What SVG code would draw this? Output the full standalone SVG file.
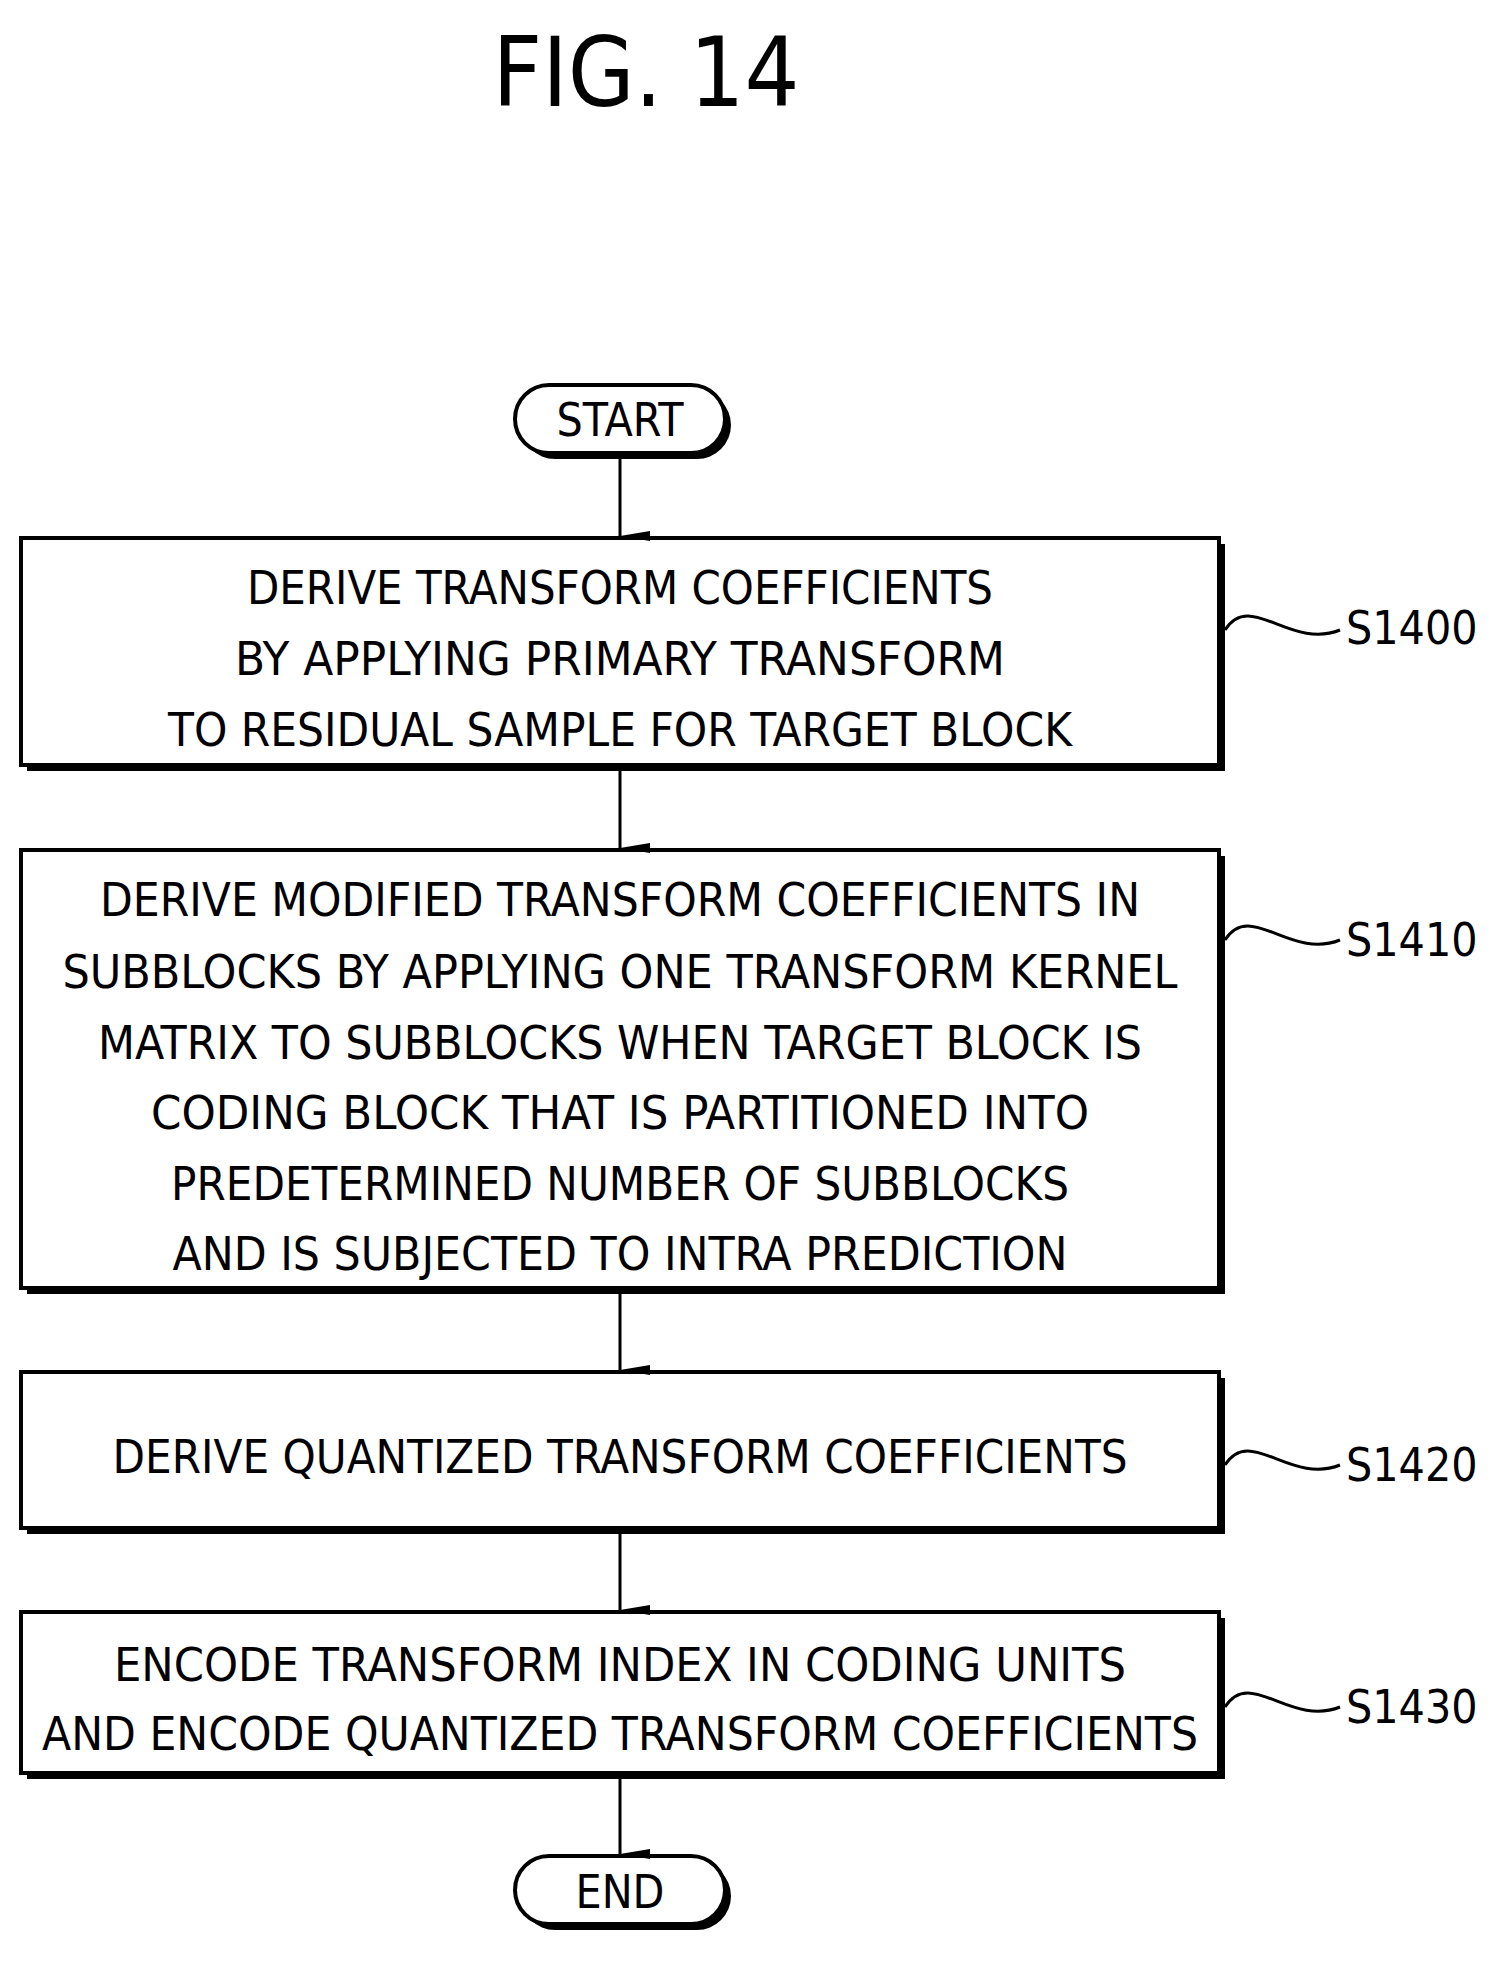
<svg xmlns="http://www.w3.org/2000/svg" width="1500" height="1971" viewBox="0 0 1500 1971">
<style>
.t{font-family:"DejaVu Sans Condensed","DejaVu Sans",sans-serif;font-size:46px;text-anchor:middle;fill:#000}
.b{fill:#fff;stroke:#000;stroke-width:4}
.s{fill:#000}
.c{stroke:#000;stroke-width:3;fill:none}
</style>
<defs><marker id="a" markerWidth="10" markerHeight="30" refX="5" refY="30" orient="auto" markerUnits="userSpaceOnUse" viewBox="0 0 10 30"><path d="M0,0 L10,0 L5,30 Z" fill="#000"/></marker></defs>
<rect width="1500" height="1971" fill="#fff"/>
<text x="646" y="106" style="font-family:'DejaVu Sans Condensed','DejaVu Sans',sans-serif;font-size:96px;text-anchor:middle">FIG. 14</text>
<g id="start"><rect x="521" y="391" width="210" height="68" rx="34" class="s"/><rect x="515" y="385" width="210" height="68" rx="34" class="b"/><text x="620" y="436" class="t" font-size="50">START</text></g>
<g id="s1400"><rect x="27" y="544" width="1198" height="227" class="s"/><rect x="21" y="538" width="1198" height="227" class="b"/>
<text x="620" y="604" class="t" textLength="746" lengthAdjust="spacingAndGlyphs">DERIVE TRANSFORM COEFFICIENTS</text>
<text x="620" y="675" class="t" textLength="770" lengthAdjust="spacingAndGlyphs">BY APPLYING PRIMARY TRANSFORM</text>
<text x="620" y="746" class="t" textLength="904" lengthAdjust="spacingAndGlyphs">TO RESIDUAL SAMPLE FOR TARGET BLOCK</text>
<text x="1346" y="644" class="t" text-anchor="start" style="text-anchor:start">S1400</text></g>
<g id="s1410"><rect x="27" y="856" width="1198" height="438" class="s"/><rect x="21" y="850" width="1198" height="438" class="b"/>
<text x="620" y="916" class="t" textLength="1040" lengthAdjust="spacingAndGlyphs">DERIVE MODIFIED TRANSFORM COEFFICIENTS IN</text>
<text x="620" y="988" class="t" textLength="1115" lengthAdjust="spacingAndGlyphs">SUBBLOCKS BY APPLYING ONE TRANSFORM KERNEL</text>
<text x="620" y="1059" class="t" textLength="1044" lengthAdjust="spacingAndGlyphs">MATRIX TO SUBBLOCKS WHEN TARGET BLOCK IS</text>
<text x="620" y="1129" class="t" textLength="938" lengthAdjust="spacingAndGlyphs">CODING BLOCK THAT IS PARTITIONED INTO</text>
<text x="620" y="1200" class="t" textLength="898" lengthAdjust="spacingAndGlyphs">PREDETERMINED NUMBER OF SUBBLOCKS</text>
<text x="620" y="1270" class="t" textLength="895" lengthAdjust="spacingAndGlyphs">AND IS SUBJECTED TO INTRA PREDICTION</text>
<text x="1346" y="956" class="t" style="text-anchor:start">S1410</text></g>
<g id="s1420"><rect x="27" y="1378" width="1198" height="156" class="s"/><rect x="21" y="1372" width="1198" height="156" class="b"/>
<text x="620" y="1473" class="t" textLength="1015" lengthAdjust="spacingAndGlyphs">DERIVE QUANTIZED TRANSFORM COEFFICIENTS</text>
<text x="1346" y="1481" class="t" style="text-anchor:start">S1420</text></g>
<g id="s1430"><rect x="27" y="1618" width="1198" height="161" class="s"/><rect x="21" y="1612" width="1198" height="161" class="b"/>
<text x="620" y="1681" class="t" textLength="1012" lengthAdjust="spacingAndGlyphs">ENCODE TRANSFORM INDEX IN CODING UNITS</text>
<text x="620" y="1750" class="t" textLength="1156" lengthAdjust="spacingAndGlyphs">AND ENCODE QUANTIZED TRANSFORM COEFFICIENTS</text>
<text x="1346" y="1723" class="t" style="text-anchor:start">S1430</text></g>
<g id="end"><rect x="521" y="1862" width="210" height="68" rx="34" class="s"/><rect x="515" y="1856" width="210" height="68" rx="34" class="b"/><text x="620" y="1908" class="t" font-size="50">END</text></g>
<g id="connectors">
<line x1="620" y1="459" x2="620" y2="536" class="c" marker-end="url(#a)"/>
<line x1="620" y1="771" x2="620" y2="848" class="c" marker-end="url(#a)"/>
<line x1="620" y1="1294" x2="620" y2="1370" class="c" marker-end="url(#a)"/>
<line x1="620" y1="1534" x2="620" y2="1610" class="c" marker-end="url(#a)"/>
<line x1="620" y1="1779" x2="620" y2="1854" class="c" marker-end="url(#a)"/>
<path d="M1225,630 C1250,590 1290,650 1340,630" class="c"/>
<path d="M1225,940 C1250,900 1290,960 1340,940" class="c"/>
<path d="M1225,1465 C1250,1425 1290,1485 1340,1465" class="c"/>
<path d="M1225,1707 C1250,1667 1290,1727 1340,1707" class="c"/>
</g>
</svg>
